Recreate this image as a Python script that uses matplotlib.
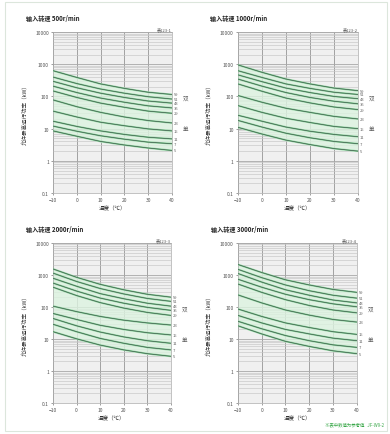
import matplotlib
matplotlib.use('Agg')
import matplotlib.pyplot as plt
from matplotlib.ticker import LogLocator, FixedLocator, NullFormatter
from matplotlib.patches import Rectangle

plt.rcParams['font.family'] = ['Noto Sans CJK SC', 'DejaVu Sans']

# Temperature (x axis) and curve labels
temps = [-10, 0, 10, 20, 30, 40]
ratio_labels = ['59', '51', '43', '35', '29', '23', '15', '11', '7', '5']
speeds = ['500', '1000', '2000', '3000']
table_ids = ['表123-1', '表123-2', '表123-3', '表123-4']

# Allowed power (kW) per curve
power_500 = [
    [630, 389, 245, 178, 135, 115],
    [400, 251, 170, 126, 98, 83],
    [295, 186, 126, 93, 72, 62],
    [209, 132, 89, 66, 51, 44],
    [148, 93, 62, 46, 35, 30],
    [78, 48, 32, 23, 17.8, 15],
    [35, 23, 15.8, 12.3, 9.8, 8.5],
    [17, 11.7, 8.5, 6.6, 5.4, 4.8],
    [12, 8.3, 6.0, 4.7, 3.8, 3.4],
    [8.5, 5.8, 4.0, 3.1, 2.5, 2.1],
]
power_1000 = [
    [955, 562, 347, 245, 182, 151],
    [630, 389, 245, 178, 135, 115],
    [468, 288, 182, 132, 100, 85],
    [347, 209, 132, 93, 71, 59],
    [245, 145, 89, 63, 47, 39],
    [107, 66, 43, 32, 24, 20],
    [52, 32, 21, 15.5, 11.7, 10],
    [26, 17, 11.2, 8.3, 6.6, 5.6],
    [18, 11.2, 7.2, 5.2, 4.0, 3.4],
    [11, 6.8, 4.4, 3.2, 2.4, 2.0],
]
power_2000 = [
    [1550, 850, 513, 347, 251, 204],
    [1150, 630, 380, 257, 186, 151],
    [794, 447, 263, 182, 132, 107],
    [562, 316, 191, 132, 98, 79],
    [417, 229, 138, 93, 68, 55],
    [107, 72, 51, 39, 32, 27.5],
    [63, 41, 27, 20, 15.8, 13.5],
    [44, 26, 16.6, 11.7, 8.9, 7.4],
    [29, 17, 10.5, 7.4, 5.5, 4.6],
    [17, 10.2, 6.5, 4.6, 3.5, 2.9],
]
power_3000 = [
    [2140, 1200, 710, 490, 355, 288],
    [1510, 830, 490, 324, 234, 190],
    [1120, 603, 347, 234, 166, 135],
    [741, 417, 251, 170, 126, 102],
    [525, 288, 170, 112, 81, 66],
    [240, 135, 81, 56, 41, 34],
    [87, 51, 32, 23, 17, 14],
    [55, 32, 20, 14.5, 10.7, 8.9],
    [36, 21, 12.9, 8.9, 6.6, 5.5],
    [26, 14.5, 8.5, 5.9, 4.3, 3.5],
]
all_power = [power_500, power_1000, power_2000, power_3000]

yticks = [0.1, 1, 10, 100, 1000, 10000]
ytick_labels = ['0.1', '1', '10', '100', '1000', '10000']

fig = plt.figure(figsize=(3.9, 4.35), dpi=100)
fig.patch.set_facecolor('white')

# outer frame
fig.add_artist(Rectangle((0.013, 0.008), 0.98, 0.985, transform=fig.transFigure,
                         fill=False, edgecolor='#dce6dc', linewidth=0.8))

positions = [
    [0.136, 0.554, 0.305, 0.370],
    [0.610, 0.554, 0.308, 0.370],
    [0.136, 0.071, 0.302, 0.368],
    [0.610, 0.071, 0.305, 0.368],
]

for i in range(4):
    ax = fig.add_axes(positions[i])
    ax.set_facecolor('#f0f0f0')
    curves = all_power[i]

    # light green band covering the curve family
    ax.fill_between(temps, curves[-1], curves[0], color='#dcf3e0', alpha=0.8, zorder=1)

    for j in range(len(curves)):
        ax.plot(temps, curves[j], color='#8fd6a0', linewidth=1.3, zorder=3,
                solid_capstyle='butt')
        ax.plot(temps, curves[j], color='#3b5848', linewidth=0.5, zorder=4)
        ax.text(40.8, curves[j][-1], ratio_labels[j], fontsize=3.0, color='#666666',
                ha='left', va='center', zorder=5)

    ax.set_yscale('log')
    ax.set_xlim(-10, 40)
    ax.set_ylim(0.1, 10000)
    ax.yaxis.set_major_locator(FixedLocator(yticks))
    ax.set_yticklabels(ytick_labels)
    ax.yaxis.set_minor_locator(LogLocator(base=10, subs=range(2, 10)))
    ax.yaxis.set_minor_formatter(NullFormatter())
    ax.set_xticks(temps)

    ax.grid(True, which='major', axis='y', color='#a8a8a8', linewidth=0.6, zorder=0)
    ax.grid(True, which='minor', axis='y', color='#c6c6c6', linewidth=0.45, zorder=0)
    ax.grid(True, which='major', axis='x', color='#959595', linewidth=0.6, zorder=0)
    ax.set_axisbelow(True)

    ax.tick_params(axis='both', which='major', labelsize=3.6, length=1.5, width=0.4,
                   pad=1.5, colors='#555555')
    ax.tick_params(axis='y', which='minor', length=0)
    for s in ax.spines.values():
        s.set_color('#aaaaaa')
        s.set_linewidth(0.5)

    ax.set_xlabel('温度（℃）', fontsize=4.0, labelpad=2, color='#333333')
    ax.set_ylabel('允许最高运行功率（kW）', fontsize=4.0, labelpad=6, color='#333333')

    ax.text(1.0, 1.005, table_ids[i], transform=ax.transAxes, fontsize=3.0,
            ha='right', va='bottom', color='#555555')
    ax.text(-0.23, 1.07, '输入转速 ' + speeds[i] + 'r/min', transform=ax.transAxes,
            fontsize=4.4, ha='left', va='bottom', color='#222222', fontweight='bold')

    # stage markers at the right of each chart
    ax.text(1.09, 0.58, '双', transform=ax.transAxes, fontsize=4.0, color='#555555',
            ha='left', va='center')
    ax.text(1.09, 0.40, '单', transform=ax.transAxes, fontsize=4.0, color='#555555',
            ha='left', va='center')

fig.text(0.985, 0.018, '※表中数值为参考值   JF-W9-2', fontsize=3.2, color='#3aa84a',
         ha='right', va='bottom')

fig.savefig('out.png', dpi=100)
